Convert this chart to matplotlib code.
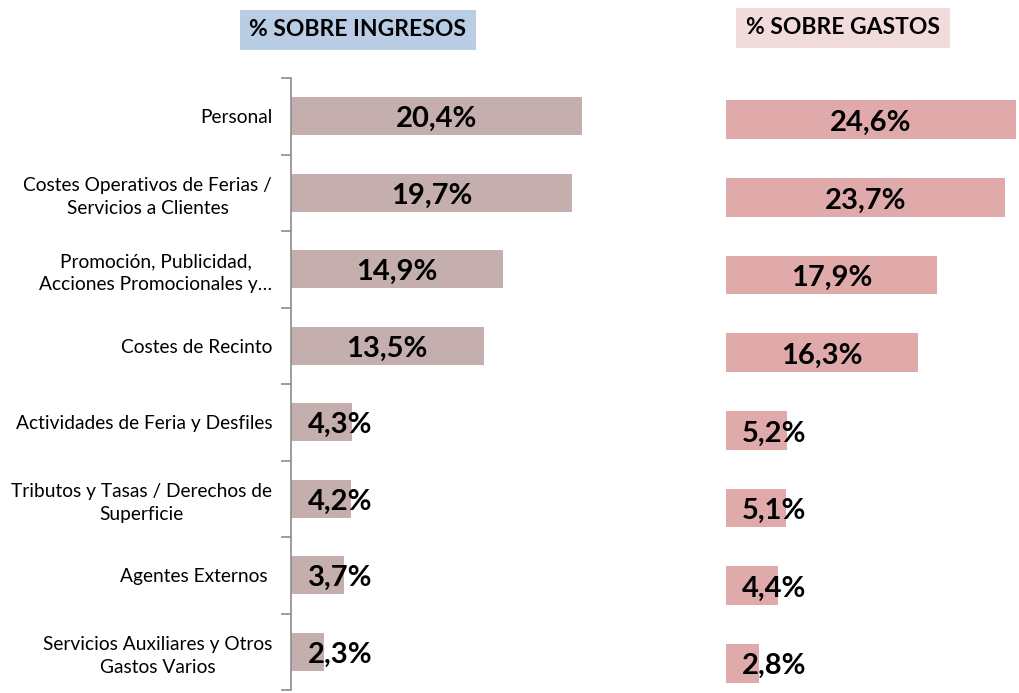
import numpy as np
import matplotlib.pyplot as plt

plt.rcParams['font.family'] = ['Lato', 'DejaVu Sans']

categories = [
    'Personal',
    'Costes Operativos de Ferias /\nServicios a Clientes',
    'Promoción, Publicidad,\nAcciones Promocionales y…',
    'Costes de Recinto',
    'Actividades de Feria y Desfiles',
    'Tributos y Tasas / Derechos de\nSuperficie',
    'Agentes Externos ',
    'Servicios Auxiliares y Otros\nGastos Varios',
]
ingresos = [20.4, 19.7, 14.9, 13.5, 4.3, 4.2, 3.7, 2.3]
gastos = [24.6, 23.7, 17.9, 16.3, 5.2, 5.1, 4.4, 2.8]

fig = plt.figure(figsize=(10.2, 6.93), dpi=100)
W, H = 1020, 693

def fmt(v):
    return f'{v:.1f}'.replace('.', ',') + '%'

y = np.arange(len(categories))

# left panel
ax1 = fig.add_axes([291 / W, 3 / H, 25 * 14.26 / W, 612 / H])
ax1.barh(y, ingresos, height=0.5, color='#c5aeae')
ax1.set_xlim(0, 25)
ax1.set_ylim(len(categories) - 0.5, -0.5)
ax1.set_yticks(y)
ax1.set_yticklabels(categories, fontsize=13.8, ha='right',
                    multialignment='center', linespacing=1.4)
ax1.tick_params(axis='y', which='major', length=0, pad=13.5)
ax1.set_yticks(np.arange(len(categories) + 1) - 0.5, minor=True)
ax1.tick_params(axis='y', which='minor', length=7, width=1.2, color='#8c8c8c')
ax1.set_xticks([])
for s in ['top', 'right', 'bottom']:
    ax1.spines[s].set_visible(False)
ax1.spines['left'].set_color('#8c8c8c')
ax1.spines['left'].set_linewidth(1.2)
for i, v in enumerate(ingresos):
    ax1.text(max(v / 2, 3.44), i + 0.04, fmt(v), ha='center', va='center',
             fontsize=21, fontweight='bold', color='black')

# right panel
ax2 = fig.add_axes([726 / W, -9 / H, 25 * 11.79 / W, 621 / H])
ax2.barh(y, gastos, height=0.5, color='#e1aaaa')
ax2.set_xlim(0, 25)
ax2.set_ylim(len(categories) - 0.5, -0.5)
ax2.axis('off')
for i, v in enumerate(gastos):
    ax2.text(max(v / 2, 4.07), i + 0.04, fmt(v), ha='center', va='center',
             fontsize=21, fontweight='bold', color='black')

# panel titles
fig.text(358 / W, 1 - 30 / H, '% SOBRE INGRESOS', ha='center', va='center',
         fontsize=16.5, fontweight='bold',
         bbox=dict(boxstyle='square,pad=0.42', fc='#b9cde5', ec='none'))
fig.text(843 / W, 1 - 28 / H, '% SOBRE GASTOS', ha='center', va='center',
         fontsize=16.5, fontweight='bold',
         bbox=dict(boxstyle='square,pad=0.42', fc='#f2dcdb', ec='none'))

fig.savefig('out.png', dpi=100)
